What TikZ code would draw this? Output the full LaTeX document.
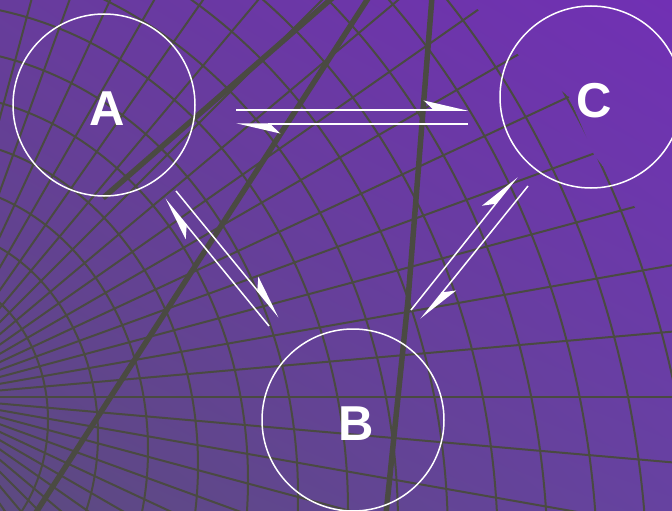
\documentclass[tikz,border=0pt]{standalone}
\usepackage{fontspec}
\setmainfont{Liberation Sans}
\usetikzlibrary{arrows.meta,calc,shadings}
\definecolor{gridc}{HTML}{4A4A42}
\definecolor{bgUL}{HTML}{673C9C}
\definecolor{bgUR}{HTML}{7130B4}
\definecolor{bgLL}{HTML}{5C4A80}
\definecolor{bgLR}{HTML}{6642A0}
\begin{document}
\begin{tikzpicture}[x=1pt,y=-1pt,
  gridline/.style={draw=gridc, line width=2pt},
  thickline/.style={draw=gridc, line width=5.5pt},
  statecircle/.style={circle, draw=white, line width=1.5pt, minimum size=182pt,
    inner sep=0pt, text=white, text height=41pt, text depth=0pt,
    font=\fontsize{49}{49}\selectfont\bfseries},
  harp/.style={draw=white, line width=1.5pt,
    -{Stealth[harpoon, length=41pt, width=19pt, inset=10pt]}}]
\useasboundingbox (0,0) rectangle (672,511);
\begin{scope}
\clip (0,0) rectangle (672,511);
\shade[upper left=bgUL, upper right=bgUR, lower left=bgLL, lower right=bgLR]
  (0,0) rectangle (672,511);
\coordinate (P) at (-75,397);
\begin{scope}
\clip (-10,-10) -- (455,-10) -- (483,14) -- (521,58) -- (569,97) -- (594,155)
  -- (634,206) -- (666,257) -- (690,275) -- (690,530) -- (-10,530) -- cycle;
\foreach \t in {-85,-80,...,85} \draw[gridline] (P) -- ++(\t:1000);
\foreach \i in {0,...,13} {
  \pgfmathsetmacro\ea{123+50*\i}
  \pgfmathsetmacro\eb{1.2*\ea}
  \pgfmathsetmacro\ec{420+0.3*(\ea-123)}
  \draw[gridline] (-75,\ec) ellipse [x radius=\ea, y radius=\eb];
}
\end{scope}
\draw[thickline] (103,198) -- (330,0) -- (336,-5);
\draw[thickline] (35,514) -- (369,-3);
\draw[thickline] (432,-3) -- (408,300) -- (386,514);
\end{scope}
\node[statecircle] (A) at (104,105) {\hspace*{6pt}A};
\node[statecircle] (C) at (591,97) {\hspace*{6pt}C};
\node[statecircle] (B) at (353,420) {\hspace*{6pt}B};
\draw[harp] ($(A)+(132,5)$) -- ($(C)+(-123,13)$);
\draw[harp] ($(C)+(-123,27)$) -- ($(A)+(132,19)$);
\draw[harp] ($(B)+(-84,-94)$) -- ($(A)+(61,94)$);
\draw[harp] ($(A)+(72,86)$) -- ($(B)+(-74,-103)$);
\draw[harp] ($(B)+(58,-110)$) -- ($(C)+(-74,80)$);
\draw[harp] ($(C)+(-63,89)$) -- ($(B)+(68,-101)$);
\end{tikzpicture}
\end{document}
